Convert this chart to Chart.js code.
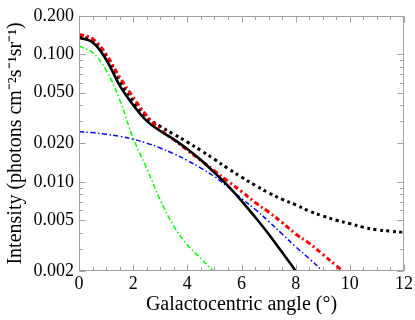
<!DOCTYPE html>
<html>
<head>
<meta charset="utf-8">
<script src="https://cdn.jsdelivr.net/npm/chart.js@4/dist/chart.umd.min.js"></script>
<style>
  body { margin: 0; background: #fff; }
  #wrap { width: 415px; height: 320px; }
</style>
</head>
<body>
<div id="wrap"><canvas id="chartOne" width="415" height="320"></canvas></div>
<script>
// angle grid (degrees)
const angles = [0, 0.5, 1, 1.5, 2, 2.5, 3, 3.5, 4, 4.5, 5, 5.5, 6, 6.5, 7, 7.5, 8, 8.5, 9, 9.5, 10, 10.5, 11, 11.5, 12];

// series (null = off the plot)
const totalSolid = [0.135, 0.124, 0.091, 0.057, 0.040, 0.0300, 0.0250, 0.0215, 0.0181, 0.0148, 0.0118, 0.0093, 0.0071, 0.0053, 0.0039, 0.0028, 0.0020, 0.00137, null, null, null, null, null, null, null];
const totalDotted = [0.140, 0.128, 0.097, 0.062, 0.043, 0.0320, 0.0272, 0.0236, 0.0205, 0.0176, 0.0150, 0.0127, 0.0109, 0.0094, 0.0082, 0.0073, 0.0066, 0.0059, 0.0054, 0.0050, 0.0047, 0.0044, 0.0042, 0.0041, 0.0040];
const redDashDot = [0.143, 0.132, 0.100, 0.066, 0.046, 0.0330, 0.0258, 0.0214, 0.0177, 0.0147, 0.0122, 0.0101, 0.0084, 0.0069, 0.0058, 0.0048, 0.0039, 0.0033, 0.0027, 0.0022, 0.0018, null, null, null, null];
const blueDashDot = [0.0247, 0.0243, 0.0236, 0.0227, 0.0216, 0.0201, 0.0184, 0.0166, 0.0147, 0.0128, 0.0110, 0.0091, 0.0074, 0.0061, 0.0049, 0.0039, 0.0031, 0.0025, 0.0020, 0.0016, null, null, null, null, null];
const greenDashDot = [0.116, 0.103, 0.075, 0.044, 0.022, 0.0128, 0.0072, 0.0045, 0.0032, 0.0025, 0.00195, 0.0015, null, null, null, null, null, null, null, null, null, null, null, null, null];

// tick labels
const xTicks = [0, 2, 4, 6, 8, 10, 12];
const yTicks = [0.002, 0.005, 0.01, 0.02, 0.05, 0.1, 0.2];

const pts = (vals) => angles.map((a, i) => ({ x: a, y: vals[i] }));

const serif = "'Liberation Serif', 'Times New Roman', serif";

// frame with inward ticks on all four sides
const frameTicks = {
    id: 'frameTicks',
    afterDatasetsDraw(chart) {
        const { ctx, chartArea: a, scales: { x, y } } = chart;
        const L = Math.round(a.left) + 0.5, R = Math.round(a.right) - 0.5;
        const T = Math.round(a.top) + 0.5, B = Math.round(a.bottom) - 0.5;
        ctx.save();
        ctx.strokeStyle = '#a0a0a0';
        ctx.lineWidth = 1;
        ctx.strokeRect(L, T, R - L, B - T);
        ctx.beginPath();
        for (let v = 0; v <= 12.001; v += 0.5) {
            const px = Math.round(x.getPixelForValue(v)) + 0.5;
            const len = xTicks.includes(v) ? 6 : 3.5;
            ctx.moveTo(px, B); ctx.lineTo(px, B - len);
            ctx.moveTo(px, T); ctx.lineTo(px, T + len);
        }
        [0.001, 0.01, 0.1].forEach(dec => {
            for (let m = 1; m <= 9; m++) {
                const v = +(m * dec).toPrecision(3);
                if (v < 0.002 || v > 0.2) continue;
                const py = Math.round(y.getPixelForValue(v)) + 0.5;
                const len = yTicks.includes(v) ? 6 : 3.5;
                ctx.moveTo(L, py); ctx.lineTo(L + len, py);
                ctx.moveTo(R, py); ctx.lineTo(R - len, py);
            }
        });
        ctx.stroke();
        ctx.restore();
    }
};

const common = { pointRadius: 0, fill: false, tension: 0.4, clip: 0, spanGaps: false };

new Chart(document.getElementById('chartOne'), {
    type: 'line',
    data: {
        datasets: [
            { ...common, data: pts(totalSolid), borderColor: '#000', borderWidth: 2.6 },
            { ...common, data: pts(redDashDot), borderColor: '#ff0000', borderWidth: 3, borderDash: [5, 3, 2, 3] },
            { ...common, data: pts(totalDotted), borderColor: '#000', borderWidth: 3, borderDash: [3, 3.5] },
            { ...common, data: pts(blueDashDot), borderColor: '#0000ff', borderWidth: 1.5, borderDash: [5, 2.5, 1.5, 2.5] },
            { ...common, data: pts(greenDashDot), borderColor: '#00ff00', borderWidth: 1.5, borderDash: [5, 2.5, 1.5, 2.5] }
        ]
    },
    options: {
        responsive: false,
        animation: false,
        layout: { padding: { top: 11, right: 10, left: 0, bottom: 0 } },
        plugins: { legend: { display: false }, tooltip: { enabled: false } },
        scales: {
            x: {
                type: 'linear',
                min: 0,
                max: 12,
                grid: { display: false, drawTicks: false },
                border: { display: false },
                afterBuildTicks: (s) => { s.ticks = xTicks.map(v => ({ value: v })); },
                afterFit: (s) => { s.height = 49; },
                ticks: { color: '#000', padding: 2, maxRotation: 0, font: { family: serif, size: 18 } },
                title: { display: true, text: 'Galactocentric angle (°)', color: '#000', padding: { top: 0, bottom: 3 }, font: { family: serif, size: 20 } }
            },
            y: {
                type: 'logarithmic',
                min: 0.002,
                max: 0.2,
                grid: { display: false, drawTicks: false },
                border: { display: false },
                afterBuildTicks: (s) => { s.ticks = yTicks.map(v => ({ value: v })); },
                afterFit: (s) => { s.width = 79; },
                ticks: { color: '#000', padding: 5, font: { family: serif, size: 18 }, callback: (v) => Number(v).toFixed(3) },
                title: { display: true, text: 'Intensity (photons cm⁻²s⁻¹sr⁻¹)', color: '#000', padding: { top: 4, bottom: 0 }, font: { family: serif, size: 20 } }
            }
        }
    },
    plugins: [frameTicks]
});
</script>
</body>
</html>
